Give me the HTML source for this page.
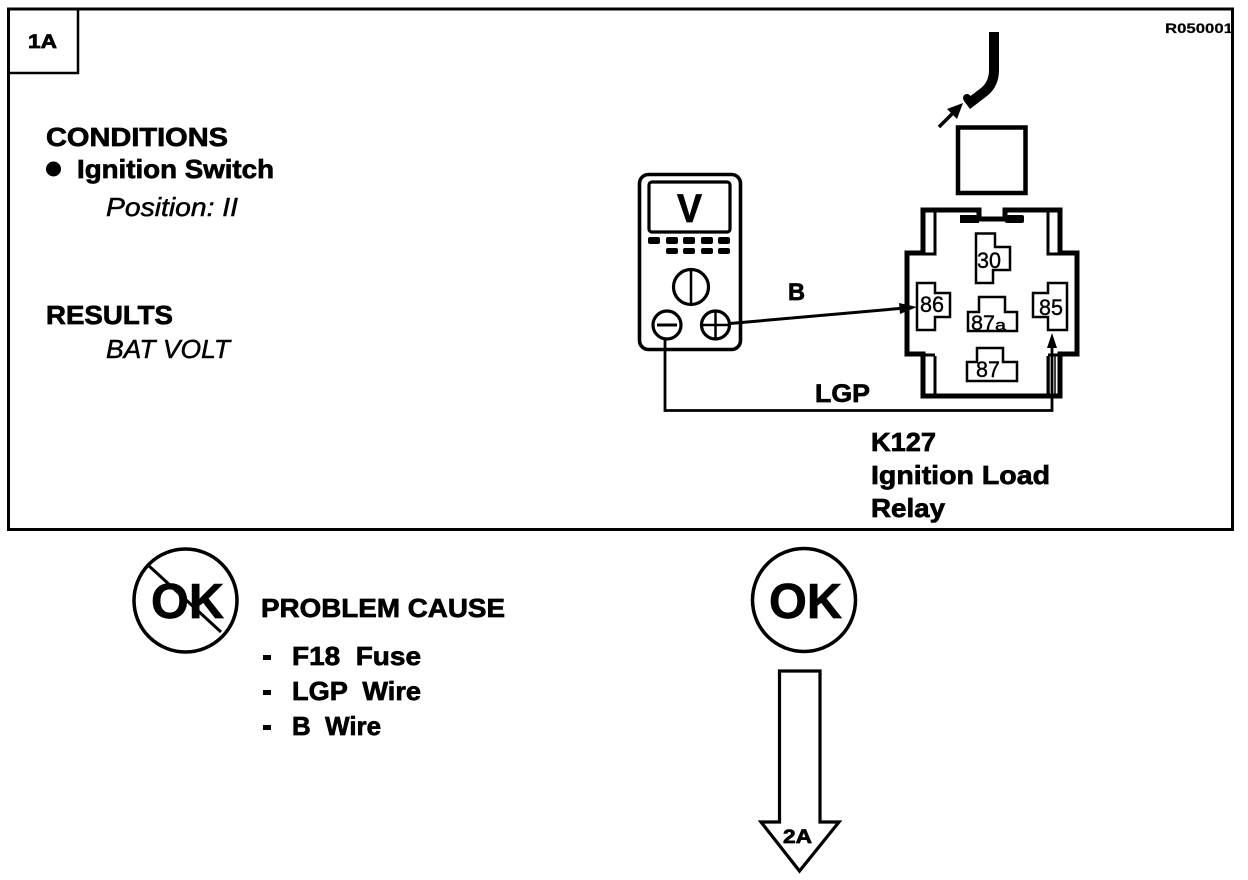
<!DOCTYPE html>
<html lang="en">
<head>
<meta charset="utf-8">
<title>Ignition Load Relay Test 1A</title>
<style>
html,body{margin:0;padding:0;background:#fff;width:1248px;height:880px;overflow:hidden}
svg{display:block}
text{font-family:"Liberation Sans",Arial,sans-serif;fill:#000}
.b{font-weight:bold;stroke:#000;stroke-width:.7px}
.i{font-style:italic;stroke:#000;stroke-width:.5px}
.n{stroke:#000;stroke-width:.4px}
.t{fill:none;stroke:#000;stroke-width:2.5}
</style>
</head>
<body>
<svg width="1248" height="880" viewBox="0 0 1248 880" xmlns="http://www.w3.org/2000/svg">
<rect x="0" y="0" width="1248" height="880" fill="#fff"/>

<!-- frame -->
<rect x="8.5" y="9" width="1224" height="520.5" fill="none" stroke="#000" stroke-width="3"/>
<path d="M10 73H78V10" fill="none" stroke="#000" stroke-width="2.5"/>
<text class="b" x="28" y="48" font-size="19" textLength="29" lengthAdjust="spacingAndGlyphs">1A</text>
<text class="b" x="1165" y="33" font-size="14" style="stroke-width:.2px" textLength="68" lengthAdjust="spacingAndGlyphs">R050001</text>

<!-- left text -->
<text class="b" x="46" y="146" font-size="26" textLength="182" lengthAdjust="spacingAndGlyphs">CONDITIONS</text>
<circle cx="53.500" cy="169" r="7.500" fill="#000"/>
<text class="b" x="77" y="178" font-size="26" textLength="197" lengthAdjust="spacingAndGlyphs">Ignition Switch</text>
<text class="i" x="106" y="216" font-size="26" textLength="132" lengthAdjust="spacingAndGlyphs">Position: II</text>
<text class="b" x="46" y="324" font-size="26" textLength="127" lengthAdjust="spacingAndGlyphs">RESULTS</text>
<text class="i" x="106" y="358" font-size="26" textLength="124" lengthAdjust="spacingAndGlyphs">BAT VOLT</text>

<!-- cable and connector arrow -->
<path d="M994 32V70Q994 84 984 92L967 105" fill="none" stroke="#000" stroke-width="10"/>
<circle cx="967" cy="98" r="4" fill="#000"/>
<path d="M939 127L955 111" fill="none" stroke="#000" stroke-width="3.500"/>
<polygon points="963,103 947,109 957,119" fill="#000"/>
<path d="M958 127.500H1025.500V193H958Z" fill="none" stroke="#000" stroke-width="4.500"/>

<!-- multimeter -->
<rect x="639.500" y="174.500" width="101" height="175" rx="9" fill="none" stroke="#000" stroke-width="3.600"/>
<rect x="649" y="182" width="81" height="50" rx="3" fill="none" stroke="#000" stroke-width="3.200"/>
<text class="b" x="677" y="222" font-size="40" textLength="25" lengthAdjust="spacingAndGlyphs">V</text>
<g fill="#000">
<rect x="648" y="237" width="12" height="7" rx="2"/><rect x="666" y="237" width="12" height="7" rx="2"/><rect x="683" y="237" width="12" height="7" rx="2"/><rect x="701" y="237" width="12" height="7" rx="2"/><rect x="718" y="237" width="12" height="7" rx="2"/>
<rect x="666" y="248" width="12" height="6" rx="2"/><rect x="683" y="248" width="12" height="6" rx="2"/><rect x="701" y="248" width="12" height="6" rx="2"/><rect x="718" y="248" width="12" height="6" rx="2"/>
</g>
<g fill="none" stroke="#000">
<circle cx="691" cy="287" r="17.500" stroke-width="3.200"/>
<path d="M691 270V304" stroke-width="2.500"/>
<circle cx="667" cy="325" r="14" stroke-width="3.200"/>
<path d="M657 325H677" stroke-width="3"/>
<circle cx="715.500" cy="325" r="14" stroke-width="3.200"/>
<path d="M702 325H729M715.500 312V338" stroke-width="2.500"/>
<!-- wires -->
<path d="M730 323.500L905 308" stroke-width="3"/>
<path d="M665 340V410.500H1052V345" stroke-width="2.800"/>
<path d="M1049 355V396M1055 355V396" stroke-width="1.500"/>
</g>
<polygon points="917,307 899,303 900,314" fill="#000"/>
<polygon points="1052,333 1047,348 1057,348" fill="#000"/>
<text class="b" x="788" y="300" font-size="24" textLength="17" lengthAdjust="spacingAndGlyphs">B</text>
<text class="b" x="815" y="402" font-size="25" textLength="55" lengthAdjust="spacingAndGlyphs">LGP</text>

<!-- relay body -->
<path d="M923 210H979V219H1005V210H1060V253H1077V354H1060V396H923V354H907V253H923Z" fill="none" stroke="#000" stroke-width="5"/>
<path d="M935 211V254H922M1048 211V254H1061M935 356V395M1048 356V395M922 355H935M1048 355H1061" fill="none" stroke="#000" stroke-width="3"/>
<rect x="960" y="215" width="19" height="8" fill="#000"/>
<rect x="1005" y="215" width="19" height="8" rx="2" fill="#000"/>

<!-- terminals -->
<path class="t" d="M976 233.500H995V247H1010V270H993V283H976Z"/>
<path class="t" d="M917 283H935V293H950V317H935V330H917Z"/>
<path class="t" d="M1048 283H1067V330H1048V317H1033V293H1048Z"/>
<path class="t" d="M979 297H1005V312H1017V331H968V312H979Z"/>
<path class="t" d="M977 348H1003V362H1017V381H967V362H977Z"/>
<text class="n" x="977" y="268" font-size="22" textLength="24" lengthAdjust="spacingAndGlyphs">30</text>
<text class="n" x="920" y="312" font-size="22" textLength="24" lengthAdjust="spacingAndGlyphs">86</text>
<text class="n" x="1039" y="315" font-size="22" textLength="24" lengthAdjust="spacingAndGlyphs">85</text>
<text class="n" x="971" y="330" font-size="21" textLength="24" lengthAdjust="spacingAndGlyphs">87</text>
<text class="n" x="995" y="330" font-size="15" textLength="11" lengthAdjust="spacingAndGlyphs">a</text>
<text class="n" x="976" y="377" font-size="22" textLength="24" lengthAdjust="spacingAndGlyphs">87</text>

<text class="b" x="871" y="451" font-size="26" textLength="65" lengthAdjust="spacingAndGlyphs">K127</text>
<text class="b" x="871" y="484" font-size="26" textLength="179" lengthAdjust="spacingAndGlyphs">Ignition Load</text>
<text class="b" x="871" y="517" font-size="26" textLength="74" lengthAdjust="spacingAndGlyphs">Relay</text>

<!-- Not OK -->
<circle cx="185.500" cy="600.500" r="51.500" fill="none" stroke="#000" stroke-width="3.500"/>
<text class="b" x="151" y="618" font-size="49" textLength="73" lengthAdjust="spacingAndGlyphs">OK</text>
<path d="M148 565L221 632" fill="none" stroke="#000" stroke-width="3"/>
<text class="b" x="261" y="617" font-size="26" textLength="244" lengthAdjust="spacingAndGlyphs">PROBLEM CAUSE</text>
<g fill="#000">
<rect x="263" y="655" width="8" height="5"/>
<rect x="263" y="690" width="8" height="5"/>
<rect x="263" y="725" width="8" height="5"/>
</g>
<text class="b" x="292" y="665" font-size="26" textLength="129" lengthAdjust="spacingAndGlyphs" xml:space="preserve">F18  Fuse</text>
<text class="b" x="292" y="700" font-size="26" textLength="129" lengthAdjust="spacingAndGlyphs" xml:space="preserve">LGP  Wire</text>
<text class="b" x="292" y="735" font-size="26" textLength="89" lengthAdjust="spacingAndGlyphs" xml:space="preserve">B  Wire</text>

<!-- OK -->
<circle cx="804" cy="600" r="51.500" fill="none" stroke="#000" stroke-width="3.500"/>
<text class="b" x="769" y="618" font-size="49" textLength="73" lengthAdjust="spacingAndGlyphs">OK</text>

<!-- Arrow -->
<path d="M779.500 671H820V822H839L799.500 871L761 822H779.500Z" fill="none" stroke="#000" stroke-width="3.200"/>
<text class="b" x="783" y="843" font-size="19" textLength="29" lengthAdjust="spacingAndGlyphs">2A</text>
</svg>
</body>
</html>
